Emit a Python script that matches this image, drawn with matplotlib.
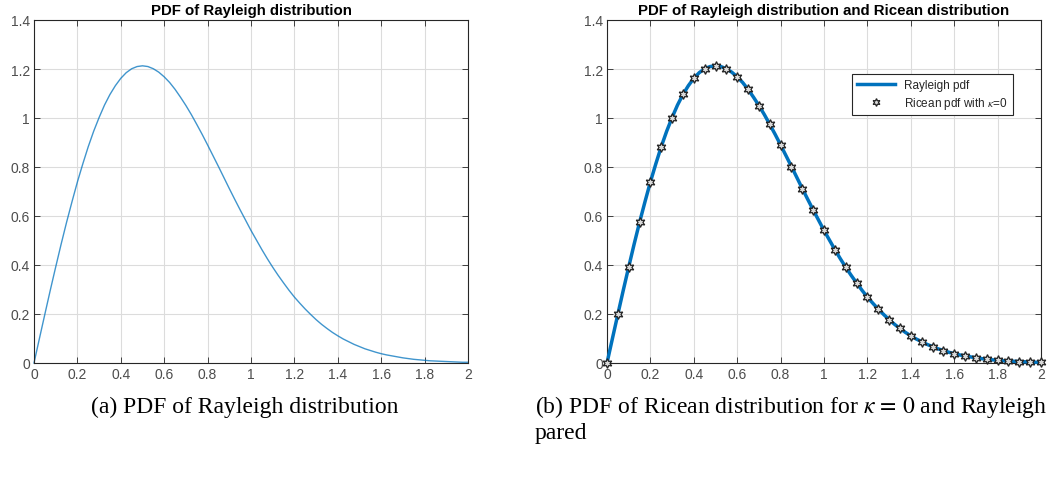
import matplotlib
matplotlib.use("Agg")
import matplotlib.pyplot as plt

# Rayleigh pdf (x step 0.025)
x_fine = [0.000, 0.025, 0.050, 0.075, 0.100, 0.125, 0.150, 0.175, 0.200, 0.225,
          0.250, 0.275, 0.300, 0.325, 0.350, 0.375, 0.400, 0.425, 0.450, 0.475,
          0.500, 0.525, 0.550, 0.575, 0.600, 0.625, 0.650, 0.675, 0.700, 0.725,
          0.750, 0.775, 0.800, 0.825, 0.850, 0.875, 0.900, 0.925, 0.950, 0.975,
          1.000, 1.025, 1.050, 1.075, 1.100, 1.125, 1.150, 1.175, 1.200, 1.225,
          1.250, 1.275, 1.300, 1.325, 1.350, 1.375, 1.400, 1.425, 1.450, 1.475,
          1.500, 1.525, 1.550, 1.575, 1.600, 1.625, 1.650, 1.675, 1.700, 1.725,
          1.750, 1.775, 1.800, 1.825, 1.850, 1.875, 1.900, 1.925, 1.950, 1.975, 2.000]
rayleigh_pdf = [0.000, 0.100, 0.199, 0.297, 0.392, 0.485, 0.574, 0.658, 0.739, 0.813,
                0.883, 0.946, 1.002, 1.053, 1.096, 1.132, 1.162, 1.185, 1.201, 1.210,
                1.213, 1.210, 1.201, 1.187, 1.168, 1.145, 1.117, 1.085, 1.051, 1.014,
                0.974, 0.933, 0.890, 0.846, 0.802, 0.757, 0.712, 0.668, 0.625, 0.583,
                0.541, 0.502, 0.463, 0.426, 0.391, 0.358, 0.327, 0.297, 0.269, 0.244,
                0.220, 0.198, 0.177, 0.158, 0.141, 0.125, 0.111, 0.098, 0.087, 0.076,
                0.067, 0.058, 0.051, 0.044, 0.038, 0.033, 0.029, 0.025, 0.021, 0.018,
                0.015, 0.013, 0.011, 0.009, 0.008, 0.007, 0.006, 0.005, 0.004, 0.003, 0.003]

# Ricean (kappa = 0) markers (x step 0.05)
x_marks = [0.00, 0.05, 0.10, 0.15, 0.20, 0.25, 0.30, 0.35, 0.40, 0.45,
           0.50, 0.55, 0.60, 0.65, 0.70, 0.75, 0.80, 0.85, 0.90, 0.95,
           1.00, 1.05, 1.10, 1.15, 1.20, 1.25, 1.30, 1.35, 1.40, 1.45,
           1.50, 1.55, 1.60, 1.65, 1.70, 1.75, 1.80, 1.85, 1.90, 1.95, 2.00]
ricean_pdf_k0 = [0.000, 0.199, 0.392, 0.574, 0.739, 0.883, 1.002, 1.096, 1.162, 1.201,
                 1.213, 1.201, 1.168, 1.117, 1.051, 0.974, 0.890, 0.802, 0.712, 0.625,
                 0.541, 0.463, 0.391, 0.327, 0.269, 0.220, 0.177, 0.141, 0.111, 0.087,
                 0.067, 0.051, 0.038, 0.029, 0.021, 0.015, 0.011, 0.008, 0.006, 0.004, 0.003]

x_ticks = [0, 0.2, 0.4, 0.6, 0.8, 1.0, 1.2, 1.4, 1.6, 1.8, 2.0]
x_tick_labels = ["0", "0.2", "0.4", "0.6", "0.8", "1", "1.2", "1.4", "1.6", "1.8", "2"]
y_ticks = [0, 0.2, 0.4, 0.6, 0.8, 1.0, 1.2, 1.4]
y_tick_labels = ["0", "0.2", "0.4", "0.6", "0.8", "1", "1.2", "1.4"]

BLUE = "#0072BD"
AX_COL = "#262626"
LABEL_COL = "#4d4d4d"

plt.rcParams["font.family"] = ["Liberation Sans", "DejaVu Sans"]
plt.rcParams["mathtext.fontset"] = "stix"

fig = plt.figure(figsize=(10.48, 4.81), dpi=100)
ax1 = fig.add_axes([34 / 1048, 117 / 481, 434 / 1048, 343 / 481])
ax2 = fig.add_axes([607 / 1048, 117 / 481, 434 / 1048, 343 / 481])


def style(ax, title):
    ax.set_xlim(0, 2)
    ax.set_ylim(0, 1.4)
    ax.set_xticks(x_ticks)
    ax.set_xticklabels(x_tick_labels)
    ax.set_yticks(y_ticks)
    ax.set_yticklabels(y_tick_labels)
    ax.tick_params(direction="in", top=True, right=True, length=4, width=0.6,
                   colors=AX_COL, labelcolor=LABEL_COL, labelsize=10, pad=3)
    ax.grid(True, color="#dcdcdc", linewidth=0.8)
    ax.set_axisbelow(True)
    for s in ax.spines.values():
        s.set_color(AX_COL)
        s.set_linewidth(0.8)
    ax.set_title(title, fontsize=10.8, fontweight="bold", color="black", pad=4)


ax1.plot(x_fine, rayleigh_pdf, color=BLUE, linewidth=1.0, alpha=0.75, clip_on=False)
style(ax1, "PDF of Rayleigh distribution")

ax2.plot(x_fine, rayleigh_pdf, color=BLUE, linewidth=2.5, label="Rayleigh pdf",
         clip_on=False, zorder=3)
ax2.plot(x_marks, ricean_pdf_k0, linestyle="none", marker=(6, 1, 0), markersize=7,
         markerfacecolor="#d9d9d9", markeredgecolor="#222222", markeredgewidth=0.9,
         label=r"Ricean pdf with $\kappa$=0", clip_on=False, zorder=4)
style(ax2, "PDF of Rayleigh distribution and Ricean distribution")
leg = ax2.legend(loc="upper right", bbox_to_anchor=(0.948, 0.86), fontsize=8.5,
                 frameon=True, fancybox=False, edgecolor=AX_COL, framealpha=1,
                 handlelength=3.2, borderpad=0.4, labelspacing=0.35, markerscale=0.8)
leg.get_frame().set_linewidth(0.8)
for t in leg.get_texts():
    t.set_color(AX_COL)

cap_font = ["Liberation Serif", "DejaVu Serif"]
fig.text(245 / 1048, 1 - 407 / 481, "(a) PDF of Rayleigh distribution", ha="center",
         va="center", fontsize=17, family=cap_font)
fig.text(535 / 1048, 1 - 407 / 481,
         r"(b) PDF of Ricean distribution for $\kappa\,=\,0$ and Rayleigh",
         ha="left", va="center", fontsize=17, family=cap_font)
fig.text(535 / 1048, 1 - 434 / 481, "pared", ha="left", va="center", fontsize=17,
         family=cap_font)

fig.savefig("out.png", dpi=100)
